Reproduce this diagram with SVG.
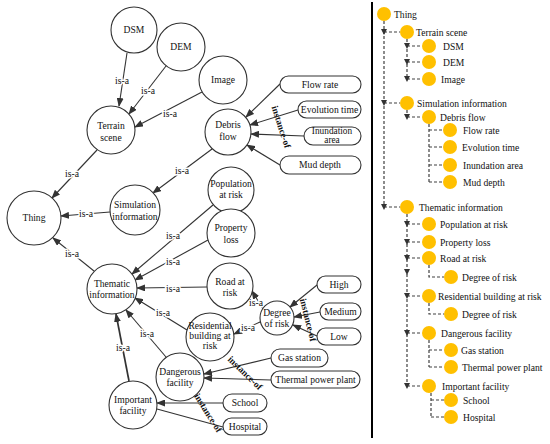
<svg xmlns="http://www.w3.org/2000/svg" width="550" height="444" viewBox="0 0 550 444">
<defs>
<marker id="ah" markerUnits="userSpaceOnUse" markerWidth="9" markerHeight="7" refX="8" refY="3.5" orient="auto">
<path d="M0,0 L9,3.5 L0,7 z" fill="#333"/>
</marker>
<style>
.n{fill:#fff;stroke:#333;stroke-width:1.1}
.bx{fill:#fff;stroke:#333;stroke-width:1.1}
text{font-family:"Liberation Serif","Times New Roman",serif;font-size:9.6px;fill:#111}
.c{text-anchor:middle}
.lbl{text-anchor:middle;stroke:#fff;stroke-width:3;paint-order:stroke}
.io{text-anchor:middle;font-weight:bold;font-size:9.4px}
.e{stroke:#333;stroke-width:1.1;fill:none;marker-end:url(#ah)}
.e0{stroke:#333;stroke-width:1.1;fill:none}
.o{fill:#FFC000}
.d{stroke:#404040;stroke-width:1.2;stroke-dasharray:3 2;fill:none}
.ar{fill:#333}
</style>
</defs>
<rect width="550" height="444" fill="#fff"/>

<g id="connectors">
<line class="e" x1="127" y1="53" x2="119" y2="106"/>
<line class="e" x1="166" y1="66" x2="129" y2="114"/>
<line class="e" x1="202" y1="92" x2="135" y2="127"/>
<line class="e" x1="97" y1="150" x2="52" y2="198"/>
<line class="e" x1="110" y1="212" x2="61" y2="216"/>
<line class="e" x1="212" y1="149" x2="153" y2="193"/>
<line class="e" x1="280" y1="84" x2="246" y2="117"/>
<line class="e" x1="298" y1="110" x2="250" y2="125"/>
<line class="e" x1="304" y1="136" x2="251" y2="134"/>
<line class="e" x1="280" y1="165" x2="247" y2="145"/>
<line class="e" x1="94" y1="271" x2="53" y2="238"/>
<line class="e" x1="213" y1="205" x2="132" y2="274"/>
<line class="e" x1="208" y1="240" x2="135" y2="280"/>
<line class="e" x1="207" y1="287" x2="137" y2="288"/>
<line class="e" x1="187" y1="330" x2="135" y2="298"/>
<line class="e" x1="166" y1="357" x2="126" y2="310"/>
<line class="e" x1="129" y1="381" x2="116" y2="314" style="stroke-width:1.7"/>
<line class="e" x1="263" y1="309" x2="252" y2="291"/>
<line class="e" x1="260" y1="322" x2="234" y2="334"/>
<line class="e" x1="317" y1="285" x2="290" y2="307"/>
<line class="e" x1="320" y1="312" x2="294" y2="317"/>
<line class="e" x1="317" y1="336" x2="293" y2="325"/>
<line class="e" x1="271" y1="358" x2="204" y2="374"/>
<line class="e" x1="271" y1="380" x2="204" y2="378"/>
<line class="e" x1="223" y1="403" x2="157" y2="403"/>
<line class="e0" x1="223" y1="427" x2="157" y2="409"/>

<text class="lbl" x="122" y="84">is-a</text>
<text class="lbl" x="148" y="94">is-a</text>
<text class="lbl" x="170" y="117">is-a</text>
<text class="lbl" x="72" y="177">is-a</text>
<text class="lbl" x="86" y="217">is-a</text>
<text class="lbl" x="182" y="174">is-a</text>
<text class="lbl" x="72" y="257">is-a</text>
<text class="lbl" x="173" y="239">is-a</text>
<text class="lbl" x="173" y="265">is-a</text>
<text class="lbl" x="173" y="292">is-a</text>
<text class="lbl" x="163" y="316">is-a</text>
<text class="lbl" x="147" y="337">is-a</text>
<text class="lbl" x="123" y="351">is-a</text>
<text class="lbl" x="256" y="306">is-a</text>
<text class="lbl" x="248" y="331">is-a</text>

<text class="io" transform="translate(281,127) rotate(72)" y="3">instance-of</text>
<text class="io" transform="translate(308,320) rotate(76)" y="3">instance-of</text>
<text class="io" transform="translate(245,373) rotate(44)" y="3">instance-of</text>
<text class="io" transform="translate(208,413) rotate(58)" y="3">instance-of</text>
</g>

<g id="n-dsm"><circle class="n" cx="134" cy="30" r="23"/><text class="c" x="134" y="33">DSM</text></g>
<g id="n-dem"><circle class="n" cx="181" cy="47" r="24"/><text class="c" x="181" y="50">DEM</text></g>
<g id="n-image"><circle class="n" cx="223" cy="80" r="24"/><text class="c" x="223" y="83">Image</text></g>
<g id="n-terrain"><circle class="n" cx="111" cy="130" r="24"/><text class="c" x="111" y="129">Terrain</text><text class="c" x="111" y="141">scene</text></g>
<g id="n-debris"><circle class="n" cx="228" cy="132" r="23"/><text class="c" x="228" y="128">Debris</text><text class="c" x="228" y="140">flow</text></g>
<g id="n-thing"><circle class="n" cx="34" cy="218" r="27"/><text class="c" x="34" y="221">Thing</text></g>
<g id="n-sim"><circle class="n" cx="135" cy="210" r="25"/><text class="c" x="135" y="208">Simulation</text><text class="c" x="135" y="220">information</text></g>
<g id="n-pop"><circle class="n" cx="231" cy="190" r="23"/><text class="c" x="231" y="187">Population</text><text class="c" x="231" y="198">at risk</text></g>
<g id="n-prop"><circle class="n" cx="231" cy="233" r="24"/><text class="c" x="231" y="231">Property</text><text class="c" x="231" y="243">loss</text></g>
<g id="n-them"><circle class="n" cx="112" cy="289" r="25"/><text class="c" x="112" y="287">Thematic</text><text class="c" x="112" y="298">information</text></g>
<g id="n-road"><circle class="n" cx="230" cy="286" r="23"/><text class="c" x="230" y="285">Road at</text><text class="c" x="230" y="296">risk</text></g>
<g id="n-degree"><circle class="n" cx="277" cy="318" r="17"/><text class="c" x="277" y="316">Degree</text><text class="c" x="277" y="327">of risk</text></g>
<g id="n-resid"><circle class="n" cx="210" cy="337" r="24"/><text class="c" x="210" y="329">Residential</text><text class="c" x="210" y="339">building at</text><text class="c" x="210" y="349">risk</text></g>
<g id="n-dang"><circle class="n" cx="180" cy="377" r="24"/><text class="c" x="180" y="375">Dangerous</text><text class="c" x="180" y="386">facility</text></g>
<g id="n-imp"><circle class="n" cx="133" cy="405" r="24"/><text class="c" x="133" y="403">Important</text><text class="c" x="133" y="414">facility</text></g>

<g id="n-flow"><rect class="bx" x="280" y="76" width="81" height="17" rx="8.5"/><text class="c" x="320" y="88">Flow rate</text></g>
<g id="n-evo"><rect class="bx" x="298" y="101" width="63" height="17" rx="8.5"/><text class="c" x="329.5" y="113">Evolution time</text></g>
<g id="n-inund"><rect class="bx" x="304" y="127" width="57" height="18" rx="9"/><text class="c" x="332" y="134" style="font-size:9.3px">Inundation</text><text class="c" x="332" y="143" style="font-size:9.3px">area</text></g>
<g id="n-mud"><rect class="bx" x="280" y="156" width="81" height="18" rx="9"/><text class="c" x="320" y="168">Mud depth</text></g>
<g id="n-high"><rect class="bx" x="317" y="276" width="44" height="17" rx="8.5"/><text class="c" x="339" y="288">High</text></g>
<g id="n-medium"><rect class="bx" x="320" y="303" width="41" height="17" rx="8.5"/><text class="c" x="340.5" y="315">Medium</text></g>
<g id="n-low"><rect class="bx" x="317" y="328" width="44" height="17" rx="8.5"/><text class="c" x="339" y="340">Low</text></g>
<g id="n-gas"><rect class="bx" x="271" y="349" width="57" height="18" rx="9"/><text class="c" x="299.5" y="361">Gas station</text></g>
<g id="n-thermal"><rect class="bx" x="271" y="371" width="89" height="17" rx="8.5"/><text class="c" x="315.5" y="383">Thermal power plant</text></g>
<g id="n-school"><rect class="bx" x="223" y="394" width="44" height="18" rx="9"/><text class="c" x="245" y="406">School</text></g>
<g id="n-hospital"><rect class="bx" x="223" y="418" width="44" height="17" rx="8.5"/><text class="c" x="245" y="430">Hospital</text></g>

<line x1="372" y1="2" x2="372" y2="438" stroke="#000" stroke-width="2"/>

<g id="tree-lines">
<path class="d" d="M384,21 V207 M384,32 H400 M384,103 H400 M384,207 H400"/>
<path class="d" d="M407,39 V79 M407,46 H422 M407,62 H422 M407,79 H422"/>
<path class="d" d="M407,110 V117 M407,117 H422"/>
<path class="d" d="M429,124 V182 M429,130 H443 M429,147 H443 M429,165 H443 M429,182 H443"/>
<path class="d" d="M407,214 V386 M407,224 H422 M407,242 H422 M407,258 H422 M407,296 H422 M407,333 H422 M407,386 H422"/>
<path class="d" d="M429,265 V277 H444"/>
<path class="d" d="M429,303 V314 H444"/>
<path class="d" d="M429,340 V367 M429,350 H444 M429,367 H444"/>
<path class="d" d="M431,393 V417 M431,400 H444 M431,417 H444"/>
<path class="ar" d="M381,29h6l-3,6z M381,100h6l-3,6z M381,204h6l-3,6z M404,43h6l-3,6z M404,59h6l-3,6z M404,76h6l-3,6z M404,114h6l-3,6z M404,221h6l-3,6z M404,239h6l-3,6z M404,255h6l-3,6z M404,269h6l-3,6z M404,293h6l-3,6z M404,330h6l-3,6z M404,383h6l-3,6z"/>
</g>

<g id="t-thing"><circle class="o" cx="384" cy="14" r="7"/><text x="394" y="17.5">Thing</text></g>
<g id="t-terrain"><circle class="o" cx="407" cy="32" r="7"/><text x="416" y="35.5">Terrain scene</text></g>
<g id="t-dsm"><circle class="o" cx="429" cy="46" r="7"/><text x="443" y="49.5">DSM</text></g>
<g id="t-dem"><circle class="o" cx="429" cy="62" r="7"/><text x="443" y="65.5">DEM</text></g>
<g id="t-image"><circle class="o" cx="429" cy="79" r="7"/><text x="441" y="82.5">Image</text></g>
<g id="t-sim"><circle class="o" cx="407" cy="103" r="7"/><text x="417" y="106.5">Simulation information</text></g>
<g id="t-debris"><circle class="o" cx="429" cy="117" r="7"/><text x="440" y="120.5">Debris flow</text></g>
<g id="t-flow"><circle class="o" cx="450" cy="130" r="7"/><text x="463" y="133.5">Flow rate</text></g>
<g id="t-evo"><circle class="o" cx="450" cy="147" r="7"/><text x="462" y="150.5">Evolution time</text></g>
<g id="t-inund"><circle class="o" cx="450" cy="165" r="7"/><text x="463" y="168.5">Inundation area</text></g>
<g id="t-mud"><circle class="o" cx="450" cy="182" r="7"/><text x="463" y="185.5">Mud depth</text></g>
<g id="t-them"><circle class="o" cx="407" cy="207" r="7"/><text x="419" y="210.5">Thematic information</text></g>
<g id="t-pop"><circle class="o" cx="429" cy="224" r="7"/><text x="440" y="227.5">Population at risk</text></g>
<g id="t-prop"><circle class="o" cx="429" cy="242" r="7"/><text x="440" y="245.5">Property loss</text></g>
<g id="t-road"><circle class="o" cx="429" cy="258" r="7"/><text x="440" y="261.5">Road at risk</text></g>
<g id="t-deg1"><circle class="o" cx="451" cy="277" r="7"/><text x="462" y="280.5">Degree of risk</text></g>
<g id="t-resid"><circle class="o" cx="429" cy="296" r="7"/><text x="438" y="299.5">Residential building at risk</text></g>
<g id="t-deg2"><circle class="o" cx="451" cy="314" r="7"/><text x="462" y="317.5">Degree of risk</text></g>
<g id="t-dang"><circle class="o" cx="429" cy="333" r="7"/><text x="441" y="336.5">Dangerous facility</text></g>
<g id="t-gas"><circle class="o" cx="451" cy="350" r="7"/><text x="461" y="353.5">Gas station</text></g>
<g id="t-thermal"><circle class="o" cx="451" cy="367" r="7"/><text x="462" y="370.5">Thermal power plant</text></g>
<g id="t-imp"><circle class="o" cx="429" cy="386" r="7"/><text x="442" y="389.5">Important facility</text></g>
<g id="t-school"><circle class="o" cx="451" cy="400" r="7"/><text x="463" y="403.5">School</text></g>
<g id="t-hospital"><circle class="o" cx="451" cy="417" r="7"/><text x="463" y="420.5">Hospital</text></g>
</svg>
